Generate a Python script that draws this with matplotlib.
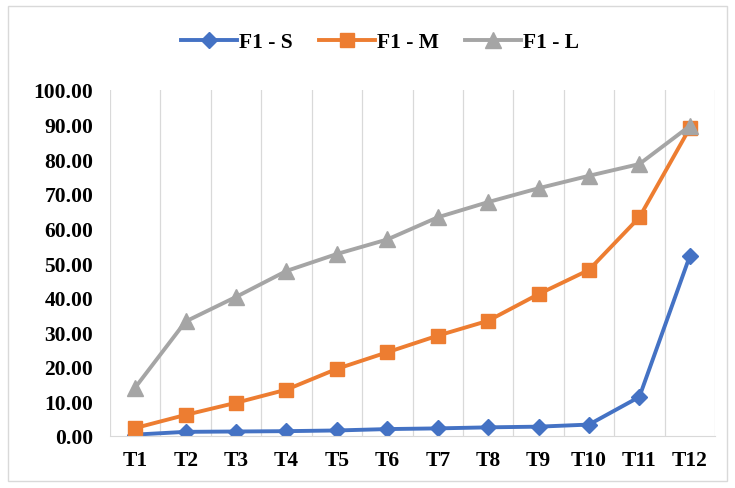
import matplotlib
matplotlib.use("Agg")
import matplotlib.pyplot as plt
from matplotlib.patches import Rectangle

categories = ["T1", "T2", "T3", "T4", "T5", "T6", "T7", "T8", "T9", "T10", "T11", "T12"]
f1_s = [0.4, 1.2, 1.3, 1.4, 1.6, 2.0, 2.2, 2.5, 2.7, 3.3, 11.3, 52.0]
f1_m = [2.3, 6.1, 9.6, 13.4, 19.4, 24.2, 29.0, 33.3, 41.0, 48.0, 63.2, 89.0]
f1_l = [14.0, 33.1, 40.2, 47.7, 52.6, 56.8, 63.2, 67.6, 71.6, 75.2, 78.6, 89.6]

plt.rcParams['font.family'] = ['Liberation Serif', 'DejaVu Serif']
plt.rcParams['font.weight'] = 'bold'

fig = plt.figure(figsize=(7.35, 4.89), dpi=100)
ax = fig.add_axes([110/735, 1-437/489, (715-110)/735, (437-91)/489])

x = list(range(1, len(categories)+1))
ax.plot(x, f1_s, color="#4472C4", lw=2.8, marker="D", ms=8, label="F1 - S")
ax.plot(x, f1_m, color="#ED7D31", lw=2.8, marker="s", ms=10.5, label="F1 - M")
ax.plot(x, f1_l, color="#A5A5A5", lw=2.8, marker="^", ms=12, label="F1 - L")

ax.set_xlim(0.5, 12.5)
ax.set_ylim(0, 100)
ax.set_xticks(x)
ax.set_xticklabels(categories)
ax.set_yticks(range(0, 101, 10))
ax.set_yticklabels(["%.2f" % v for v in range(0, 101, 10)])
for v in range(13):
    ax.axvline(v + 0.5, color="#D9D9D9", lw=0.9, zorder=0)
for s in ["top", "right", "left"]:
    ax.spines[s].set_visible(False)
ax.spines["bottom"].set_color("#D9D9D9")
ax.tick_params(length=0, labelsize=15.5)
ax.tick_params(axis="y", pad=12)
ax.tick_params(axis="x", pad=10)
for t in ax.get_xticklabels() + ax.get_yticklabels():
    t.set_fontweight("bold")

fig.legend(loc="center", bbox_to_anchor=(0.517, 1-43/489), ncol=3, frameon=False,
           prop={"size": 15.5, "weight": "bold"}, handlelength=2.6, columnspacing=1.2,
           handletextpad=0.1)

fig.patches.append(Rectangle((8/735, 7/489), 719/735, 475/489, transform=fig.transFigure,
                             fill=False, edgecolor="#D9D9D9", lw=1))

fig.savefig("out.png", dpi=100)
